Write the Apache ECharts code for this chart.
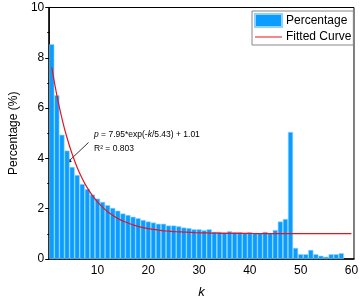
<!DOCTYPE html>
<html>
<head>
<meta charset="utf-8">
<script src="https://cdn.jsdelivr.net/npm/echarts@6/dist/echarts.min.js"></script>
<style>html,body{margin:0;padding:0;background:#fff}#c{width:361px;height:304px}</style>
</head>
<body>
<div id="c"></div>
<script>
var categories = [];
for (var i = 1; i <= 60; i++) categories.push(String(i));
var percentage = [8.54, 6.51, 4.94, 4.31, 3.66, 3.34, 2.98, 2.78, 2.56, 2.40,
  2.27, 2.14, 2.03, 1.92, 1.81, 1.75, 1.68, 1.62, 1.55, 1.49,
  1.45, 1.40, 1.40, 1.33, 1.33, 1.30, 1.25, 1.23, 1.18, 1.18,
  1.14, 1.18, 1.08, 1.08, 1.06, 1.10, 1.07, 1.07, 1.04, 1.06,
  1.02, 1.02, 1.08, 1.02, 1.15, 1.49, 1.59, 5.05, 0.44, 0.19,
  0.19, 0.36, 0.19, 0.13, 0.09, 0.19, 0.19, 0.23, null, null];
var fitted = [7.62, 6.51, 5.59, 4.82, 4.18, 3.64, 3.20, 2.83, 2.53, 2.27,
  2.06, 1.88, 1.74, 1.61, 1.51, 1.43, 1.36, 1.30, 1.25, 1.21,
  1.18, 1.15, 1.12, 1.11, 1.09, 1.08, 1.07, 1.06, 1.05, 1.04,
  1.04, 1.03, 1.03, 1.02, 1.02, 1.02, 1.02, 1.02, 1.02, 1.02,
  1.01, 1.01, 1.01, 1.01, 1.01, 1.01, 1.01, 1.01, 1.01, 1.01,
  1.01, 1.01, 1.01, 1.01, 1.01, 1.01, 1.01, 1.01, 1.01, 1.01];
var xTickLabels = ['10', '20', '30', '40', '50', '60'];
var yTicks = [0, 2, 4, 6, 8, 10];

var FONT = 'Liberation Sans, Arial, Helvetica, sans-serif';
var chart = echarts.init(document.getElementById('c'), null, {renderer: 'canvas'});
chart.setOption({
  animation: false,
  textStyle: {fontFamily: FONT, color: '#000'},
  grid: {left: 36, right: 6, top: 7.5, bottom: 39, show: true, borderColor: '#000', borderWidth: 1, backgroundColor: 'transparent'},
  legend: {
    orient: 'vertical', left: 252, top: 11,
    borderColor: '#888', borderWidth: 1, padding: [2, 2, 2, 2],
    itemGap: 2, itemWidth: 27, itemHeight: 13,
    textStyle: {fontFamily: FONT, fontSize: 12, color: '#000', padding: [0, 0, 0, -1]},
    data: [
      {name: 'Percentage', icon: 'rect'},
      {name: 'Fitted Curve', icon: 'path://M0,0L0.01,0ZM0,6.4L27,6.4L27,7.6L0,7.6ZM26.99,13L27,13Z'}
    ]
  },
  xAxis: {
    type: 'category', data: categories, boundaryGap: true,
    name: 'k', nameLocation: 'middle', nameGap: 27,
    nameTextStyle: {fontFamily: FONT, fontSize: 13, fontStyle: 'italic', color: '#000'},
    axisLine: {lineStyle: {color: '#000', width: 1.5}},
    axisTick: {show: false},
    axisLabel: {
      fontFamily: FONT, fontSize: 12, color: '#000', margin: 6,
      interval: function (idx, val) { return xTickLabels.indexOf(val) >= 0; }
    },
    splitLine: {show: false}
  },
  yAxis: {
    type: 'value', min: yTicks[0], max: yTicks[yTicks.length - 1], interval: 2,
    name: 'Percentage (%)', nameLocation: 'middle', nameGap: 22,
    nameTextStyle: {fontFamily: FONT, fontSize: 12, color: '#000'},
    axisLine: {show: true, lineStyle: {color: '#000', width: 1.5}},
    axisTick: {show: true, inside: false, length: 4, lineStyle: {color: '#000'}},
    minorTick: {show: true, splitNumber: 2, length: 2, lineStyle: {color: '#000'}},
    axisLabel: {fontFamily: FONT, fontSize: 12, color: '#000', margin: 5},
    splitLine: {show: false}
  },
  series: [
    {
      name: 'Percentage', type: 'bar', data: percentage,
      barCategoryGap: '0%',
      itemStyle: {color: '#0a9dff', borderColor: '#8fd2ff', borderWidth: 0.6},
      z: 2
    },
    {
      name: 'Fitted Curve', type: 'line', data: fitted, smooth: true,
      symbol: 'none', lineStyle: {color: '#e8141c', width: 1.2},
      itemStyle: {color: '#e8141c'},
      z: 3
    }
  ],
  graphic: [
    {
      type: 'text', left: 94, top: 130,
      style: {
        text: '{i|p} = 7.95*exp(-{i|k}/5.43) + 1.01',
        fontFamily: FONT, fontSize: 8.5, fill: '#000',
        rich: {i: {fontStyle: 'italic', fontFamily: FONT, fontSize: 8.5, fill: '#000'}}
      }
    },
    {
      type: 'text', left: 94, top: 144,
      style: {text: 'R\u00B2 = 0.803', fontFamily: FONT, fontSize: 8.5, fill: '#000'}
    },
    {
      type: 'line', shape: {x1: 88.5, y1: 142.5, x2: 69, y2: 161},
      style: {stroke: '#000', lineWidth: 0.8}
    },
    {
      type: 'polygon', shape: {points: [[66.5, 163.5], [68, 157.8], [71.8, 161.6]]},
      style: {fill: '#000'}
    }
  ]
});
</script>
</body>
</html>
